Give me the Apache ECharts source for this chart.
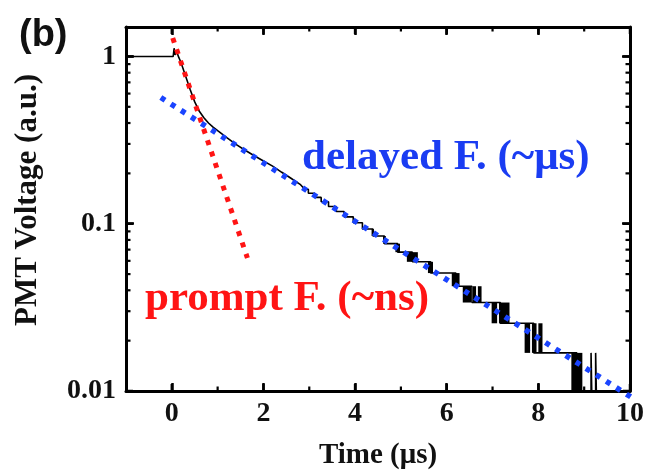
<!DOCTYPE html>
<html><head><meta charset="utf-8">
<script src="https://cdn.jsdelivr.net/npm/echarts@6/dist/echarts.min.js"></script>
<style>html,body{margin:0;padding:0;background:#fff}#c{width:647px;height:475px}</style>
</head><body><div id="c"></div>
<script>
// ---- data ----
const xTickValues = [0, 2, 4, 6, 8, 10];
const xMinorTickValues = [1, 3, 5, 7, 9];
const yTickValues = [0.01, 0.1, 1];
const yTickLabels = ['0.01', '0.1', '1'];
const yMinorTickValues = [0.02, 0.03, 0.04, 0.05, 0.06, 0.07, 0.08, 0.09,
                          0.2, 0.3, 0.4, 0.5, 0.6, 0.7, 0.8, 0.9];

// PMT signal, smooth early part [time (us), voltage]
const pmtSmooth = [
  [-1, 1.0], [0.03, 1.0], [0.05, 1.12], [0.07, 1.02], [0.1, 1.08], [0.15, 0.99],
  [0.2, 0.92], [0.3, 0.765], [0.4, 0.635], [0.5, 0.535], [0.6, 0.47], [0.7, 0.43],
  [0.8, 0.40], [0.9, 0.378], [1.0, 0.36], [1.2, 0.327], [1.4, 0.298], [1.6, 0.275],
  [1.8, 0.255], [2.0, 0.237], [2.2, 0.221], [2.4, 0.203], [2.6, 0.187], [2.8, 0.172],
  [2.9, 0.1606]
];
// PMT signal, digitised (stepped) tail: [time where level starts, level]
const pmtSteps = [
  [2.9, 0.1606], [2.98, 0.1521], [3.12, 0.1437], [3.26, 0.1352], [3.42, 0.1268],
  [3.59, 0.1183], [3.76, 0.1099], [3.96, 0.1014], [4.16, 0.0930], [4.39, 0.0845],
  [4.64, 0.0760], [4.93, 0.0676], [5.25, 0.0592], [5.65, 0.0507], [6.2, 0.0423],
  [6.55, 0.0338], [7.17, 0.0254], [7.9, 0.0169], [8.84, 0.00845], [9.15, 0.0169],
  [9.17, 0.00845], [9.25, 0.0169], [9.27, 0.00845], [10, 0.00845]
];
// flicker bursts between two digitiser levels: [t start, t end, low level, high level]
const pmtNoiseBursts = [
  [4.36, 4.41, 0.0845, 0.0930],
  [4.61, 4.67, 0.0760, 0.0845],
  [4.88, 4.98, 0.0676, 0.0760],
  [5.13, 5.37, 0.0592, 0.0676],
  [5.59, 5.70, 0.0507, 0.0592],
  [6.11, 6.28, 0.0423, 0.0507],
  [6.35, 6.53, 0.0338, 0.0423],
  [6.57, 6.64, 0.0338, 0.0423],
  [6.68, 6.76, 0.0338, 0.0423],
  [6.98, 7.10, 0.0254, 0.0338],
  [7.14, 7.37, 0.0254, 0.0338],
  [7.70, 7.82, 0.0169, 0.0254],
  [7.86, 7.96, 0.0169, 0.0254],
  [8.00, 8.09, 0.0169, 0.0254],
  [8.72, 8.96, 0.00845, 0.0169]
];
// exponential fits (straight lines on log axis)
const promptFit = [[0.02, 1.29], [1.65, 0.0624]];
const delayedFit = [[-0.24, 0.568], [10.05, 0.0091]];

// ---- chart ----
const SERIF = '"Liberation Serif", "Times New Roman", serif';
const chart = echarts.init(document.getElementById('c'), null, {renderer: 'canvas'});

function isDecade(v) {
  const l = Math.log10(v);
  return Math.abs(l - Math.round(l)) < 1e-6;
}

const textGraphics = [
  {type: 'text', left: 19, top: 17, z: 10,
    style: {text: '(b)', fontFamily: '"Liberation Sans", Arial, sans-serif', fontWeight: 'bold', fontSize: 38, fill: '#111'}},
  {type: 'text', x: 28, y: 200, rotation: Math.PI / 2, z: 10,
    style: {text: 'PMT Voltage (a.u.)', fontFamily: SERIF, fontWeight: 'bold', fontSize: 31, fill: '#111', align: 'center', verticalAlign: 'middle'}},
  {type: 'text', x: 302, y: 158, z: 10,
    style: {text: 'delayed F. (~\u03bcs)', fontFamily: SERIF, fontWeight: 'bold', fontSize: 43, fill: '#1a3cf2', align: 'left', verticalAlign: 'middle'}},
  {type: 'text', x: 145, y: 299, z: 10,
    style: {text: 'prompt F. (~ns)', fontFamily: SERIF, fontWeight: 'bold', fontSize: 43, fill: '#ff1414', align: 'left', verticalAlign: 'middle'}}
];

const option = {
  animation: false,
  backgroundColor: '#ffffff',
  grid: {left: 126, right: 16, top: 27, bottom: 76, containLabel: false},
  xAxis: [{
    type: 'value', position: 'bottom', min: -1, max: 10,
    name: 'Time (\u03bcs)', nameLocation: 'middle', nameGap: 50,
    nameTextStyle: {fontFamily: SERIF, fontWeight: 'bold', fontSize: 29, color: '#111'},
    axisLine: {show: true, onZero: false, lineStyle: {color: '#000', width: 3}},
    axisTick: {show: true, inside: true, length: 8, lineStyle: {color: '#000', width: 2.5}, customValues: xTickValues},
    axisLabel: {show: true, margin: 9, fontFamily: SERIF, fontWeight: 'bold', fontSize: 28, color: '#111', customValues: xTickValues},
    splitLine: {show: false}
  }, {
    type: 'value', position: 'top', min: -1, max: 10,
    axisLine: {show: true, onZero: false, lineStyle: {color: '#000', width: 3}},
    axisTick: {show: true, inside: true, length: 8, lineStyle: {color: '#000', width: 2.5}, customValues: xTickValues},
    axisLabel: {show: false},
    splitLine: {show: false}
  }],
  yAxis: [{
    type: 'log', logBase: 10, position: 'left', min: 0.01, max: 1.5,
    axisLine: {show: true, onZero: false, lineStyle: {color: '#000', width: 3}},
    axisTick: {show: true, inside: true, length: 8, lineStyle: {color: '#000', width: 2.5}},
    axisLabel: {show: true, margin: 10, showMaxLabel: false, fontFamily: SERIF, fontWeight: 'bold', fontSize: 28, color: '#111',
      formatter: function (v) {
        if (!isDecade(v)) return '';
        for (let i = 0; i < yTickValues.length; i++) {
          if (Math.abs(Math.log10(v) - Math.log10(yTickValues[i])) < 1e-6) return yTickLabels[i];
        }
        return '';
      }},
    splitLine: {show: false}
  }, {
    type: 'log', logBase: 10, position: 'right', min: 0.01, max: 1.5,
    axisLine: {show: true, onZero: false, lineStyle: {color: '#000', width: 3}},
    axisTick: {show: true, inside: true, length: 8, lineStyle: {color: '#000', width: 2.5}},
    axisLabel: {show: false},
    splitLine: {show: false}
  }],
  series: [
    {
      name: 'PMT signal', type: 'line', data: pmtSmooth, showSymbol: false, clip: true,
      lineStyle: {color: '#000', width: 1.6}, z: 3
    },
    {
      name: 'PMT signal tail', type: 'line', data: pmtSteps, step: 'end', showSymbol: false, clip: true,
      lineStyle: {color: '#000', width: 1.6}, z: 3
    },
    {
      name: 'PMT flicker', type: 'custom', data: pmtNoiseBursts, clip: true, z: 3,
      encode: {x: [0, 1], y: [2, 3]},
      renderItem: function (params, api) {
        const cs = params.coordSys;
        const p0 = api.coord([api.value(0), api.value(3)]);
        const p1 = api.coord([api.value(1), api.value(2)]);
        const yb = Math.min(p1[1], cs.y + cs.height);
        return {type: 'rect', shape: {x: p0[0], y: p0[1], width: Math.max(1, p1[0] - p0[0]), height: yb - p0[1]},
          style: {fill: '#000'}};
      }
    },
    {
      name: 'prompt fit', type: 'line', data: promptFit, showSymbol: false, clip: false, z: 4,
      lineStyle: {color: '#ff1414', width: 5, type: [5, 7], cap: 'butt'}
    },
    {
      name: 'delayed fit', type: 'line', data: delayedFit, showSymbol: false, clip: false, z: 5,
      lineStyle: {color: '#1a44ff', width: 5.5, type: [5, 7], cap: 'butt'}
    }
  ],
  graphic: textGraphics
};
chart.setOption(option);

// tick marks on all four sides, positioned through the chart's own scales
(function addTicks() {
  const g = {gridIndex: 0};
  const xL = chart.convertToPixel(g, [-1, 1])[0];
  const xR = chart.convertToPixel(g, [10, 1])[0];
  const yB = chart.convertToPixel(g, [0, 0.01])[1];
  const yT = chart.convertToPixel(g, [0, 1.5])[1];
  const ticks = [];
  function seg(x1, y1, x2, y2, w) {
    ticks.push({type: 'line', z: 20, silent: true, shape: {x1: x1, y1: y1, x2: x2, y2: y2}, style: {stroke: '#000', lineWidth: w}});
  }
  xTickValues.forEach(function (v) { const x = chart.convertToPixel(g, [v, 1])[0]; seg(x, yB, x, yB - 7, 2.5); seg(x, yT, x, yT + 7, 2.5); });
  xMinorTickValues.forEach(function (v) { const x = chart.convertToPixel(g, [v, 1])[0]; seg(x, yB, x, yB - 4.5, 2.2); seg(x, yT, x, yT + 4.5, 2.2); });
  yTickValues.forEach(function (v) { const y = chart.convertToPixel(g, [0, v])[1]; seg(xL, y, xL + 7, y, 2.5); seg(xR, y, xR - 7, y, 2.5); });
  yMinorTickValues.forEach(function (v) { const y = chart.convertToPixel(g, [0, v])[1]; seg(xL, y, xL + 4.5, y, 2.2); seg(xR, y, xR - 4.5, y, 2.2); });
  chart.setOption({graphic: textGraphics.concat(ticks)});
})();
</script>
</body></html>
